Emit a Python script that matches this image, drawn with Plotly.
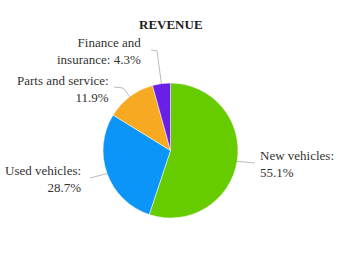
import math
import plotly.graph_objects as go

categories = ["New vehicles", "Used vehicles", "Parts and service", "Finance and insurance"]
values = [55.1, 28.7, 11.9, 4.3]
label_texts = ["New vehicles:<br>55.1%", "Used vehicles:<br>28.7%",
               "Parts and service:<br>11.9%", "Finance and<br>insurance: 4.3%"]
colors = ["#66cc00", "#0b95f8", "#f8a922", "#6a1fe6"]

W, H = 341, 277
CX, CY, R = 170.5, 150.5, 67.5

# label layout (pixel positions of connector elbows / text anchors)
label_layout = [
    dict(elbow=None, end=(255, 163), text=(258, 164), anchor="left"),
    dict(elbow=None, end=(90, 178), text=(83, 179), anchor="right"),
    dict(elbow=(123, 88), end=(114, 87), text=(111, 89), anchor="right"),
    dict(elbow=(157, 51), end=(151, 50), text=(143, 51), anchor="right"),
]

def px(x):
    return x / W

def py(y):
    return 1 - y / H

fig = go.Figure(go.Pie(
    labels=categories, values=values, sort=False, direction="clockwise",
    rotation=0, marker=dict(colors=colors, line=dict(color="white", width=0.5)),
    textinfo="none", hoverinfo="label+percent", showlegend=False,
    domain=dict(x=[px(CX - R), px(CX + R)], y=[py(CY + R), py(CY - R)]),
))

total = sum(values)
cum = 0
shapes, annotations = [], []
for v, txt, lay in zip(values, label_texts, label_layout):
    mid = (cum + v / 2) / total * 2 * math.pi
    cum += v
    sx = CX + R * math.sin(mid)
    sy = CY - R * math.cos(mid)
    pts = [(sx, sy)]
    if lay["elbow"]:
        pts.append(lay["elbow"])
    pts.append(lay["end"])
    path = "M " + " L ".join(f"{px(x)} {py(y)}" for x, y in pts)
    shapes.append(dict(type="path", path=path, xref="paper", yref="paper",
                       line=dict(color="#bbbbbb", width=1)))
    tx, ty = lay["text"]
    annotations.append(dict(x=px(tx), y=py(ty), xref="paper", yref="paper",
                            text=txt, showarrow=False, xanchor=lay["anchor"],
                            yanchor="middle", align=lay["anchor"],
                            font=dict(family="Liberation Serif", size=13, color="#333333")))

annotations.append(dict(x=px(170.5), y=py(25), xref="paper", yref="paper",
                        text="<b>REVENUE</b>", showarrow=False, xanchor="center",
                        yanchor="middle",
                        font=dict(family="Liberation Serif", size=13, color="#222222")))

fig.update_layout(width=W, height=H, margin=dict(l=0, r=0, t=0, b=0),
                  paper_bgcolor="white", plot_bgcolor="white",
                  shapes=shapes, annotations=annotations)

fig.write_html("out.html")
